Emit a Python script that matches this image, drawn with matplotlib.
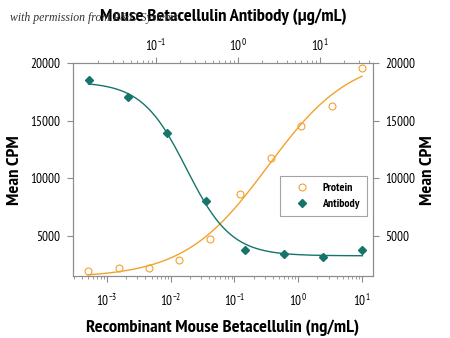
import numpy as np
import matplotlib
matplotlib.use("Agg")
import matplotlib.pyplot as plt
from matplotlib import font_manager

# ---------------- data ----------------
protein_conc = [10/3**k for k in range(9, -1, -1)]          # ng/mL
protein_cpm = [1910, 2170, 2200, 2920, 4730, 8600, 11710, 14560, 16280, 19540]
antibody_conc = [100/3**k for k in range(8, 0, -1)]          # ug/mL
antibody_cpm = [18490, 17030, 13890, 7990, 3770, 3390, 3130, 3800]

x_bottom_label = "Recombinant Mouse Betacellulin (ng/mL)"
x_top_label = "Mouse Betacellulin Antibody (\u03bcg/mL)"
y_label = "Mean CPM"
legend_labels = ["Protein", "Antibody"]

# ---------------- fonts ----------------
avail = {f.name for f in font_manager.fontManager.ttflist}
cond = "DejaVu Sans"
for cand in ["PT Sans Narrow", "Roboto Condensed", "Asap Condensed", "Archivo Narrow",
             "Barlow Semi Condensed", "Liberation Sans Narrow"]:
    if cand in avail:
        cond = cand
        break
plt.rcParams['font.family'] = [cond, 'DejaVu Sans']

ORANGE = "#f2a22c"
TEAL = "#16756a"
SPINE = "#8c8c8c"


def fit4pl(x, y):
    lx = np.log10(np.asarray(x, float))
    y = np.asarray(y, float)
    best = None
    for c in np.linspace(lx.min(), lx.max(), 300):
        for h in np.linspace(0.3, 3.0, 120):
            s = 1.0 / (1.0 + 10 ** ((c - lx) * h))
            A = np.column_stack([1 - s, s])
            coef, *_ = np.linalg.lstsq(A, y, rcond=None)
            r = np.sum((A @ coef - y) ** 2)
            if best is None or r < best[0]:
                best = (r, c, h, coef)
    _, c, h, coef = best

    def f(xx):
        s = 1.0 / (1.0 + 10 ** ((c - np.log10(xx)) * h))
        return coef[0] * (1 - s) + coef[1] * s
    return f


fig = plt.figure(figsize=(4.5, 3.38), dpi=100)
ax = fig.add_axes([73/450, 1-276/338, 300/450, 213/338])

ax.set_xscale("log")
ax.set_xlim(10**-3.533, 10**1.173)
ax.set_ylim(1500, 20000)

fp = fit4pl(protein_conc, protein_cpm)
xs = np.logspace(np.log10(protein_conc[0]), np.log10(protein_conc[-1]), 300)
ax.plot(xs, fp(xs), color=ORANGE, lw=1.0, zorder=2)
hp, = ax.plot(protein_conc, protein_cpm, 'o', mfc='none', mec=ORANGE, ms=5, mew=0.8, zorder=3)

ax2 = ax.twiny()
ax2.set_xscale("log")
ax2.set_xlim(10**-2.006, 10**1.652)
fa = fit4pl(antibody_conc, antibody_cpm)
xa = np.logspace(np.log10(antibody_conc[0]), np.log10(antibody_conc[-1]), 300)
ax2.plot(xa, fa(xa), color=TEAL, lw=1.0, zorder=2)
ha, = ax2.plot(antibody_conc, antibody_cpm, 'D', color=TEAL, ms=4.5, zorder=3)

ax.set_yticks([5000, 10000, 15000, 20000])
ax.set_yticklabels(["5000", "10000", "15000", "20000"])
ax.tick_params(axis='y', which='both', direction='out', length=4, color=SPINE,
               labelsize=9.5, right=True, labelright=True, pad=5)
ax.tick_params(axis='x', which='major', direction='out', length=4, color=SPINE, labelsize=9.5, pad=8)
ax.tick_params(axis='x', which='minor', direction='out', length=2, color=SPINE)
ax2.tick_params(axis='x', which='major', direction='out', length=4, color=SPINE, labelsize=9.5, pad=2.5)
ax2.tick_params(axis='x', which='minor', direction='out', length=2, color=SPINE)
ax.set_xticks([1e-3, 1e-2, 1e-1, 1e0, 1e1])
ax2.set_xticks([1e-1, 1e0, 1e1])

for a in (ax, ax2):
    for s in a.spines.values():
        s.set_color(SPINE)
        s.set_linewidth(0.8)

ax.set_xlabel(x_bottom_label, fontsize=13.3, fontweight='bold', labelpad=8)
ax2.set_xlabel(x_top_label, fontsize=13.3, fontweight='bold', labelpad=12)
fig.text(15/450, 1-170/338, y_label, rotation=90, fontsize=13.3, fontweight='bold',
         ha='center', va='center')
fig.text(428/450, 1-170/338, y_label, rotation=90, fontsize=13.3, fontweight='bold',
         ha='center', va='center')

leg = ax2.legend([hp, ha], legend_labels, loc='upper left', bbox_to_anchor=(207/300, 1-(176-63)/213),
                 fontsize=8.5, frameon=True, fancybox=False, edgecolor=SPINE, borderaxespad=0,
                 handlelength=2.6, handletextpad=0.4, borderpad=0.6, labelspacing=0.45)
leg.get_frame().set_linewidth(0.8)
for t in leg.get_texts():
    t.set_fontweight('bold')

fig.text(10/450, 1-18/338, "with permission from R&D Systems", fontsize=8.5,
         family=['Liberation Serif', 'DejaVu Serif'], style='italic', color='#333333', va='center', zorder=0)

fig.savefig("out.png", dpi=100)
